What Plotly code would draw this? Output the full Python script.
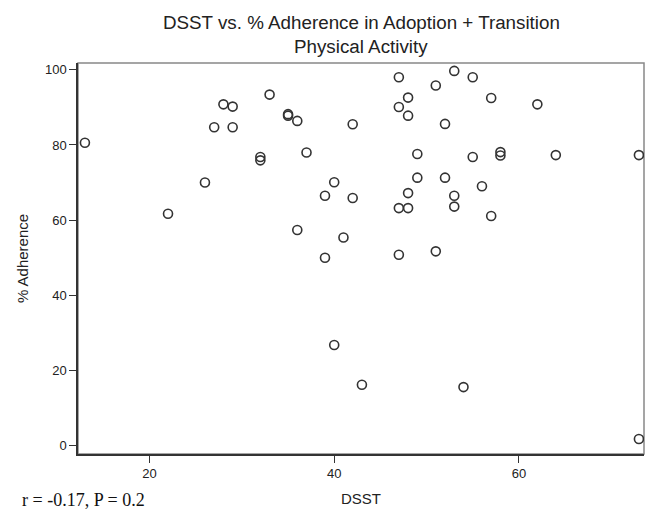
import plotly.graph_objects as go

dsst = [13, 22, 26, 27, 28, 29, 29, 32, 32, 33, 35, 35, 36, 37, 36, 39, 40, 42, 42, 41,
        39, 40, 43, 47, 48, 47, 48, 51, 53, 55, 57, 62, 52, 49, 55, 58, 58, 64, 73, 49,
        52, 56, 48, 53, 47, 48, 53, 57, 47, 51, 54, 73]
adherence = [80.6, 61.7, 70.0, 84.7, 90.8, 90.2, 84.7, 76.8, 75.9, 93.4, 88.2, 87.8, 86.4, 78.0, 57.4,
             66.5, 70.1, 65.9, 85.5, 55.4, 50.0, 26.8, 16.2, 98.0, 92.6, 90.1, 87.8, 95.8, 99.7, 98.0,
             92.5, 90.8, 85.6, 77.6, 76.8, 78.1, 77.2, 77.3, 77.3, 71.3, 71.3, 69.0, 67.2, 66.5, 63.2,
             63.2, 63.6, 61.1, 50.8, 51.7, 15.6, 1.8]
x_ticks = [20, 40, 60]
y_ticks = [0, 20, 40, 60, 80, 100]
title_lines = ["DSST vs. % Adherence in Adoption + Transition", "Physical Activity"]

fig = go.Figure()
fig.add_trace(go.Scatter(
    x=dsst, y=adherence, mode="markers",
    marker=dict(symbol="circle-open", size=9, color="#333333", line=dict(width=1.6)),
    showlegend=False, hoverinfo="x+y"))

fig.update_layout(
    width=652, height=514,
    margin=dict(l=78, r=8, t=63, b=60),
    paper_bgcolor="white", plot_bgcolor="white",
    font=dict(family="Liberation Sans, Arial, sans-serif", color="#222222", size=13),
    xaxis=dict(range=[12.25, 73.55], tickvals=x_ticks, showgrid=False, zeroline=False,
               showline=True, linecolor="#333333", linewidth=1.5,
               ticks="outside", ticklen=7, tickcolor="#333333", tickwidth=1.2,
               title=dict(text="DSST", font=dict(size=15), standoff=13)),
    yaxis=dict(range=[-2.2, 101.8], tickvals=y_ticks, showgrid=False, zeroline=False,
               showline=True, linecolor="#333333", linewidth=1.5,
               ticks="outside", ticklen=7, tickcolor="#333333", tickwidth=1.2,
               title=dict(text="% Adherence", font=dict(size=15), standoff=13)),
    shapes=[dict(type="rect", xref="paper", yref="paper", x0=0, x1=1, y0=0, y1=1,
                 line=dict(color="#888888", width=1.5), layer="below")],
    annotations=[
        dict(text=title_lines[0], xref="paper", yref="paper", x=0.5, y=(454 - 22) / 391,
             xanchor="center", yanchor="middle", showarrow=False,
             font=dict(size=18.8, color="#222222")),
        dict(text=title_lines[1], xref="paper", yref="paper", x=0.5, y=(454 - 47) / 391,
             xanchor="center", yanchor="middle", showarrow=False,
             font=dict(size=18.8, color="#222222")),
        dict(text="r = -0.17, P = 0.2", xref="paper", yref="paper",
             x=-0.1025, y=-0.118, xanchor="left", yanchor="middle", showarrow=False,
             font=dict(family="Liberation Serif, Times New Roman, serif", size=18, color="#111111")),
    ],
)

fig.write_html("out.html")
